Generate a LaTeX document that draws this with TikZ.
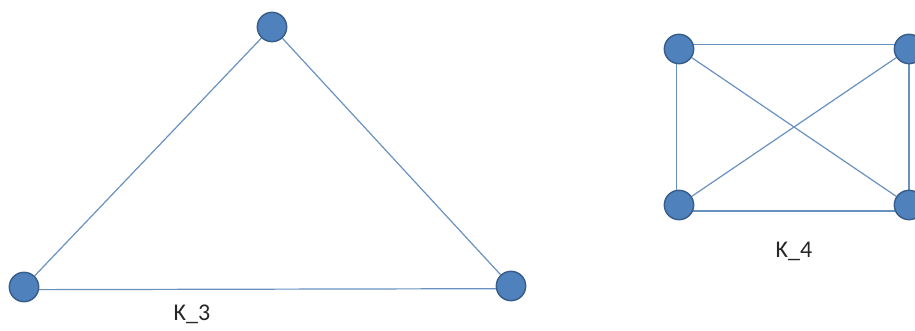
\documentclass[tikz,border=0pt]{standalone}
\usepackage{fontspec}
\setmainfont{Carlito}
\usepackage{tikz}
\usetikzlibrary{positioning,backgrounds}
\definecolor{vfill}{RGB}{79,129,189}
\definecolor{vline}{RGB}{56,93,138}
\definecolor{eline}{RGB}{105,145,192}

\begin{document}
\begin{tikzpicture}[
  x=0.75pt, y=-0.75pt,
  font=\fontsize{18}{21}\selectfont,
  vertex/.style={circle, fill=vfill, draw=vline, line width=1.1pt, minimum size=22pt, inner sep=0pt},
  edge/.style={eline, line width=0.9pt},
]
  % Frame
  \useasboundingbox (0,0) rectangle (915,331);

  % K_3 vertices
  \node[vertex] (a) at (272,27) {};
  \node[vertex] (b) at (24,287) {};
  \node[vertex] (c) at (511,286) {};

  % K_4 vertices
  \node[vertex] (tl) at (679,49) {};
  \node[vertex] (tr) at (909,49) {};
  \node[vertex] (bl) at (679,205) {};
  \node[vertex] (br) at (909,205) {};

  \begin{scope}[on background layer]
    % K_3 edges
    \draw[edge] (a) -- (b);
    \draw[edge] (a) -- (c);
    \draw[edge] ([yshift=-2pt]b.center) -- ([yshift=-2pt]c.center);

    % K_4 edges: sides sit a little off the centres
    \draw[edge] ([yshift=3.5pt]tl.center) -- ([yshift=3.5pt]tr.center);
    \draw[edge] ([yshift=-4.5pt]bl.center) -- ([yshift=-4.5pt]br.center);
    \draw[edge] ([xshift=-2pt]tl.center) -- ([xshift=-2pt]bl.center);
    \draw[edge] (tr) -- (br);
    \foreach \u/\v in {tl/br, tr/bl} {
      \draw[edge] (\u) -- (\v);
    }
  \end{scope}

  % Labels
  \node[text=black!85] (k3) at (192,314) {K\_3};
  \node[text=black!85] (k4) at (794,251) {K\_4};
\end{tikzpicture}
\end{document}
